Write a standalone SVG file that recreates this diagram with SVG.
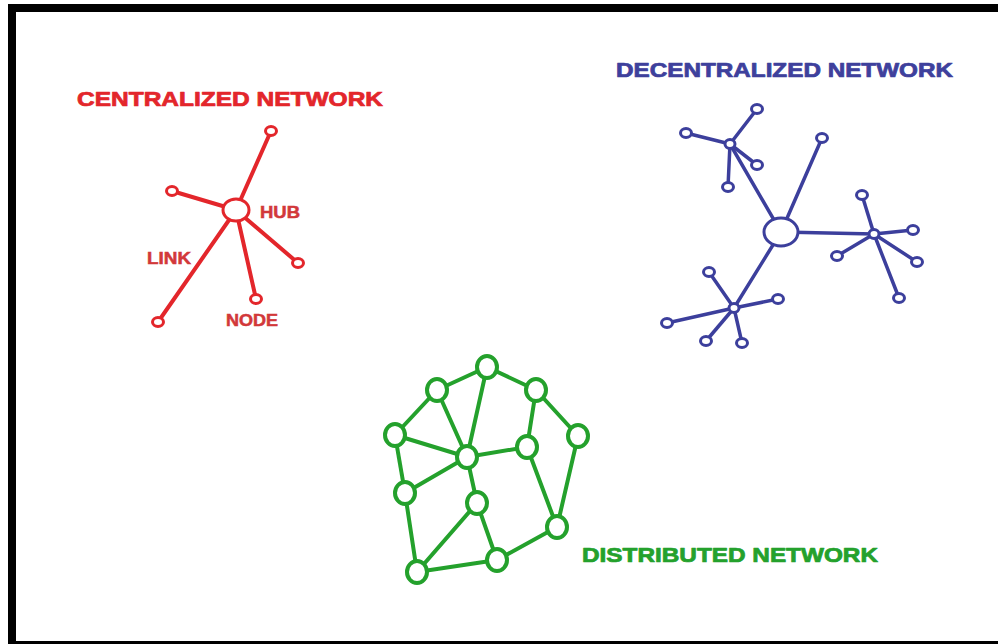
<svg xmlns="http://www.w3.org/2000/svg" width="998" height="644" viewBox="0 0 998 644">
  <style>
    .title { font-family: "Liberation Sans", Arial, sans-serif; font-weight: bold; stroke-width: 0.9; stroke-linejoin: round; }
    .red-link { stroke: #e3262b; stroke-width: 4; stroke-linecap: round; fill: none; }
    .red-node { stroke: #e3262b; stroke-width: 3; fill: #ffffff; }
    .red-label { fill: #d2383a; stroke: #d2383a; stroke-width: 0.6; font-family: "Liberation Sans", Arial, sans-serif; font-weight: bold; font-size: 19px; }
    .blue-link { stroke: #3c3f9c; stroke-width: 3.5; stroke-linecap: round; fill: none; }
    .blue-node { stroke: #3c3f9c; stroke-width: 3; fill: #ffffff; }
    .green-link { stroke: #24a12c; stroke-width: 4; stroke-linecap: round; fill: none; }
    .green-node { stroke: #24a12c; stroke-width: 4; fill: #ffffff; }
  </style>

  <!-- page background and frame -->
  <rect x="0" y="0" width="998" height="644" fill="#ffffff"/>
  <rect x="8" y="4" width="990" height="8" fill="#000000"/>
  <rect x="8" y="4" width="8" height="640" fill="#000000"/>
  <rect x="8" y="641" width="990" height="3" fill="#000000"/>

  <!-- ===== Centralized network ===== -->
  <text class="title" transform="translate(77,106) scale(1,0.82)" font-size="24.5" fill="#e3262b" stroke="#e3262b" textLength="306" lengthAdjust="spacingAndGlyphs">CENTRALIZED NETWORK</text>
  <g id="centralized-links">
    <line class="red-link" x1="236" y1="210" x2="271" y2="131"/>
    <line class="red-link" x1="236" y1="210" x2="172" y2="191"/>
    <line class="red-link" x1="236" y1="210" x2="298" y2="263"/>
    <line class="red-link" x1="236" y1="210" x2="256" y2="299"/>
    <line class="red-link" x1="236" y1="210" x2="158" y2="322"/>
  </g>
  <g id="c-hub"><ellipse class="red-node" cx="236" cy="210" rx="13" ry="11"/></g>
  <g id="c-node-1"><ellipse class="red-node" cx="271" cy="131" rx="5.5" ry="4.5"/></g>
  <g id="c-node-2"><ellipse class="red-node" cx="172" cy="191" rx="5.5" ry="4.5"/></g>
  <g id="c-node-3"><ellipse class="red-node" cx="298" cy="263" rx="5.5" ry="4.5"/></g>
  <g id="c-node-4"><ellipse class="red-node" cx="256" cy="299" rx="5.5" ry="4.5"/></g>
  <g id="c-node-5"><ellipse class="red-node" cx="158" cy="322" rx="5.5" ry="4.5"/></g>
  <text class="red-label" transform="translate(260,218) scale(1,0.82)" textLength="40" lengthAdjust="spacingAndGlyphs">HUB</text>
  <text class="red-label" transform="translate(147,264) scale(1,0.82)" textLength="44" lengthAdjust="spacingAndGlyphs">LINK</text>
  <text class="red-label" transform="translate(226,326) scale(1,0.82)" textLength="52" lengthAdjust="spacingAndGlyphs">NODE</text>

  <!-- ===== Decentralized network ===== -->
  <text class="title" transform="translate(616,77) scale(1,0.82)" font-size="24.5" fill="#3e409c" stroke="#3e409c" textLength="337" lengthAdjust="spacingAndGlyphs">DECENTRALIZED NETWORK</text>
  <g id="decentralized-links">
    <!-- main hub spokes -->
    <line class="blue-link" x1="781" y1="232" x2="730" y2="144"/>
    <line class="blue-link" x1="781" y1="232" x2="822" y2="138"/>
    <line class="blue-link" x1="781" y1="232" x2="874" y2="234"/>
    <line class="blue-link" x1="781" y1="232" x2="734" y2="308"/>
    <!-- upper cluster -->
    <line class="blue-link" x1="730" y1="144" x2="757" y2="109"/>
    <line class="blue-link" x1="730" y1="144" x2="686" y2="133"/>
    <line class="blue-link" x1="730" y1="144" x2="757" y2="165"/>
    <line class="blue-link" x1="730" y1="144" x2="728" y2="187"/>
    <!-- right cluster -->
    <line class="blue-link" x1="874" y1="234" x2="862" y2="195"/>
    <line class="blue-link" x1="874" y1="234" x2="913" y2="230"/>
    <line class="blue-link" x1="874" y1="234" x2="917" y2="262"/>
    <line class="blue-link" x1="874" y1="234" x2="899" y2="298"/>
    <line class="blue-link" x1="874" y1="234" x2="837" y2="256"/>
    <!-- lower cluster -->
    <line class="blue-link" x1="734" y1="308" x2="709" y2="272"/>
    <line class="blue-link" x1="734" y1="308" x2="778" y2="299"/>
    <line class="blue-link" x1="734" y1="308" x2="667" y2="323"/>
    <line class="blue-link" x1="734" y1="308" x2="706" y2="341"/>
    <line class="blue-link" x1="734" y1="308" x2="742" y2="343"/>
  </g>
  <g id="d-hub"><ellipse class="blue-node" cx="781" cy="232" rx="17" ry="14"/></g>
  <g id="d-subhub-1"><ellipse class="blue-node" cx="730" cy="144" rx="5" ry="4.5"/></g>
  <g id="d-subhub-2"><ellipse class="blue-node" cx="874" cy="234" rx="5" ry="4.5"/></g>
  <g id="d-subhub-3"><ellipse class="blue-node" cx="734" cy="308" rx="5" ry="4.5"/></g>
  <g id="d-leaf-1"><ellipse class="blue-node" cx="757" cy="109" rx="5.5" ry="4.5"/></g>
  <g id="d-leaf-2"><ellipse class="blue-node" cx="686" cy="133" rx="5.5" ry="4.5"/></g>
  <g id="d-leaf-3"><ellipse class="blue-node" cx="757" cy="165" rx="5.5" ry="4.5"/></g>
  <g id="d-leaf-4"><ellipse class="blue-node" cx="728" cy="187" rx="5.5" ry="4.5"/></g>
  <g id="d-leaf-5"><ellipse class="blue-node" cx="822" cy="138" rx="5.5" ry="4.5"/></g>
  <g id="d-leaf-6"><ellipse class="blue-node" cx="862" cy="195" rx="5.5" ry="4.5"/></g>
  <g id="d-leaf-7"><ellipse class="blue-node" cx="913" cy="230" rx="5.5" ry="4.5"/></g>
  <g id="d-leaf-8"><ellipse class="blue-node" cx="917" cy="262" rx="5.5" ry="4.5"/></g>
  <g id="d-leaf-9"><ellipse class="blue-node" cx="899" cy="298" rx="5.5" ry="4.5"/></g>
  <g id="d-leaf-10"><ellipse class="blue-node" cx="837" cy="256" rx="5.5" ry="4.5"/></g>
  <g id="d-leaf-11"><ellipse class="blue-node" cx="709" cy="272" rx="5.5" ry="4.5"/></g>
  <g id="d-leaf-12"><ellipse class="blue-node" cx="778" cy="299" rx="5.5" ry="4.5"/></g>
  <g id="d-leaf-13"><ellipse class="blue-node" cx="667" cy="323" rx="5.5" ry="4.5"/></g>
  <g id="d-leaf-14"><ellipse class="blue-node" cx="706" cy="341" rx="5.5" ry="4.5"/></g>
  <g id="d-leaf-15"><ellipse class="blue-node" cx="742" cy="343" rx="5.5" ry="4.5"/></g>

  <!-- ===== Distributed network ===== -->
  <g id="distributed-links">
    <line class="green-link" x1="487" y1="367" x2="437" y2="390"/>
    <line class="green-link" x1="487" y1="367" x2="536" y2="390"/>
    <line class="green-link" x1="487" y1="367" x2="467" y2="457"/>
    <line class="green-link" x1="437" y1="390" x2="395" y2="435"/>
    <line class="green-link" x1="437" y1="390" x2="467" y2="457"/>
    <line class="green-link" x1="536" y1="390" x2="527" y2="447"/>
    <line class="green-link" x1="536" y1="390" x2="578" y2="436"/>
    <line class="green-link" x1="395" y1="435" x2="467" y2="457"/>
    <line class="green-link" x1="395" y1="435" x2="405" y2="493"/>
    <line class="green-link" x1="527" y1="447" x2="467" y2="457"/>
    <line class="green-link" x1="527" y1="447" x2="557" y2="527"/>
    <line class="green-link" x1="578" y1="436" x2="557" y2="527"/>
    <line class="green-link" x1="467" y1="457" x2="405" y2="493"/>
    <line class="green-link" x1="467" y1="457" x2="477" y2="503"/>
    <line class="green-link" x1="405" y1="493" x2="417" y2="572"/>
    <line class="green-link" x1="477" y1="503" x2="417" y2="572"/>
    <line class="green-link" x1="477" y1="503" x2="497" y2="560"/>
    <line class="green-link" x1="417" y1="572" x2="497" y2="560"/>
    <line class="green-link" x1="497" y1="560" x2="557" y2="527"/>
  </g>
  <g id="g-node-a"><ellipse class="green-node" cx="487" cy="367" rx="10" ry="11"/></g>
  <g id="g-node-b"><ellipse class="green-node" cx="437" cy="390" rx="10" ry="11"/></g>
  <g id="g-node-c"><ellipse class="green-node" cx="536" cy="390" rx="10" ry="11"/></g>
  <g id="g-node-d"><ellipse class="green-node" cx="395" cy="435" rx="10" ry="11"/></g>
  <g id="g-node-e"><ellipse class="green-node" cx="578" cy="436" rx="10" ry="11"/></g>
  <g id="g-node-f"><ellipse class="green-node" cx="527" cy="447" rx="10" ry="11"/></g>
  <g id="g-node-g"><ellipse class="green-node" cx="467" cy="457" rx="10" ry="11"/></g>
  <g id="g-node-h"><ellipse class="green-node" cx="405" cy="493" rx="10" ry="11"/></g>
  <g id="g-node-i"><ellipse class="green-node" cx="477" cy="503" rx="10" ry="11"/></g>
  <g id="g-node-j"><ellipse class="green-node" cx="557" cy="527" rx="10" ry="11"/></g>
  <g id="g-node-k"><ellipse class="green-node" cx="497" cy="560" rx="10" ry="11"/></g>
  <g id="g-node-l"><ellipse class="green-node" cx="417" cy="572" rx="10" ry="11"/></g>
  <text class="title" transform="translate(582,562) scale(1,0.82)" font-size="24.5" fill="#24a12c" stroke="#24a12c" textLength="296" lengthAdjust="spacingAndGlyphs">DISTRIBUTED NETWORK</text>
</svg>
